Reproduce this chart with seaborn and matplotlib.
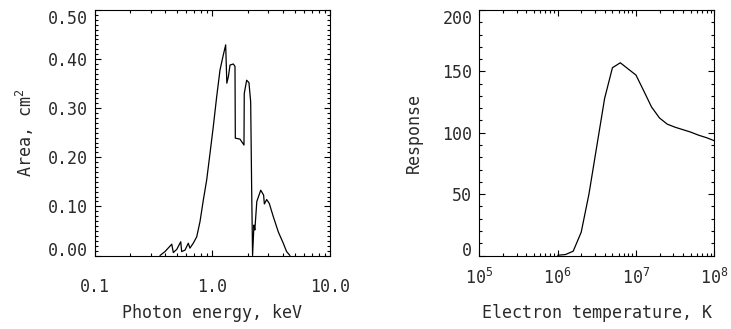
import numpy as np
import pandas as pd
import matplotlib
matplotlib.use('Agg')
import matplotlib.pyplot as plt
import matplotlib.ticker as mticker
import seaborn as sns

# effective area vs photon energy (keV)
energy = [0.36, 0.397, 0.453, 0.467, 0.50, 0.54, 0.55, 0.587, 0.626, 0.646,
          0.69, 0.738, 0.787, 0.84, 0.897, 0.957, 1.02, 1.09, 1.164, 1.24,
          1.30, 1.33, 1.37, 1.416, 1.51, 1.56, 1.57, 1.72, 1.86, 1.87,
          1.96, 2.05, 2.12, 2.16, 2.20, 2.26, 2.30, 2.39, 2.58, 2.73,
          2.77, 2.90, 3.05, 3.30, 3.64, 4.01, 4.28, 4.57]
area = [0.0, 0.008, 0.023, 0.006, 0.0126, 0.028, 0.008, 0.011, 0.025, 0.015,
        0.025, 0.038, 0.069, 0.113, 0.154, 0.208, 0.262, 0.323, 0.378, 0.408,
        0.429, 0.351, 0.364, 0.388, 0.39, 0.385, 0.239, 0.237, 0.225, 0.330,
        0.357, 0.352, 0.313, 0.14, 0.0, 0.062, 0.052, 0.11, 0.133, 0.123,
        0.105, 0.114, 0.106, 0.079, 0.048, 0.025, 0.008, 0.0]

# temperature response
temperature = [1.0e6, 1.26e6, 1.58e6, 2.0e6, 2.51e6, 3.16e6, 3.98e6, 5.01e6,
               6.31e6, 7.94e6, 1.0e7, 1.26e7, 1.58e7, 2.0e7, 2.51e7, 3.16e7,
               3.98e7, 5.01e7, 6.31e7, 7.94e7, 1.0e8]
response = [0.2, 0.8, 3.5, 19, 50, 89, 128, 153,
            157, 152, 147, 134, 121, 112, 107, 104.5,
            102.5, 100.5, 98, 96, 93.5]

df_area = pd.DataFrame({"energy": energy, "area": area})
df_resp = pd.DataFrame({"temperature": temperature, "response": response})

sns.set_theme(style="ticks")
plt.rcParams['font.family'] = ['DejaVu Sans Mono']
plt.rcParams['mathtext.fontset'] = 'custom'
plt.rcParams['mathtext.rm'] = 'DejaVu Sans Mono'
plt.rcParams['mathtext.it'] = 'DejaVu Sans Mono'
plt.rcParams['font.size'] = 12
plt.rcParams['axes.linewidth'] = 0.8
plt.rcParams['text.color'] = '#2a2a2a'
plt.rcParams['axes.labelcolor'] = '#2a2a2a'

fig = plt.figure(figsize=(7.31, 3.29), dpi=100)
ax1 = fig.add_axes([94.5 / 731, 73.5 / 329, 235.5 / 731, 245.5 / 329])
ax2 = fig.add_axes([479.3 / 731, 73.5 / 329, 235 / 731, 245.5 / 329])

sns.lineplot(data=df_area, x="energy", y="area", ax=ax1, color="black",
             linewidth=0.9, estimator=None, sort=False)
sns.lineplot(data=df_resp, x="temperature", y="response", ax=ax2, color="black",
             linewidth=0.9, estimator=None, sort=False)

for ax in (ax1, ax2):
    ax.set_xscale("log")
    for s in ax.spines.values():
        s.set_color("black")
    ax.tick_params(which="both", direction="in", top=True, right=True,
                   color="black", labelcolor="#2a2a2a", labelsize=12, width=0.8)
    ax.tick_params(which="major", length=4.5)
    ax.tick_params(which="minor", length=2.2)
    ax.tick_params(axis="y", pad=5)
    ax.xaxis.set_minor_locator(mticker.LogLocator(base=10, subs=np.arange(2, 10)))
    ax.xaxis.set_minor_formatter(mticker.NullFormatter())

# left panel
ax1.set_xlim(0.1, 10)
ax1.set_ylim(0, 0.5)
ax1.set_xticks([0.1, 1, 10])
ax1.set_xticklabels(["0.1", "1.0", "10.0"])
ax1.set_yticks([0, 0.1, 0.2, 0.3, 0.4, 0.5])
ax1.set_yticklabels(["0.00", "0.10", "0.20", "0.30", "0.40", "0.50"])
ax1.yaxis.set_minor_locator(mticker.MultipleLocator(0.01))
ax1.tick_params(axis="x", pad=16.5)
ax1.set_xlabel("Photon energy, keV", fontsize=12, va="baseline")
ax1.set_ylabel("Area, cm$^2$", fontsize=12, va="center")
ax1.xaxis.set_label_coords(0.5, -0.255)
ax1.yaxis.set_label_coords(-0.295, 0.5)

# right panel
ax2.set_xlim(1e5, 1e8)
ax2.set_ylim(0, 200)
ax2.set_xticks([1e5, 1e6, 1e7, 1e8])
ax2.set_yticks([0, 50, 100, 150, 200])
ax2.set_yticklabels(["0", "50", "100", "150", "200"])
ax2.yaxis.set_minor_locator(mticker.MultipleLocator(10))
ax2.tick_params(axis="x", pad=9)
ax2.set_xlabel("Electron temperature, K", fontsize=12, va="baseline")
ax2.set_ylabel("Response", fontsize=12, va="center")
ax2.xaxis.set_label_coords(0.5, -0.255)
ax2.yaxis.set_label_coords(-0.278, 0.5)

# end labels pushed inside the axis range
for ax in (ax1, ax2):
    labels = ax.get_yticklabels()
    labels[0].set_va("baseline")
    labels[-1].set_va("top")

fig.savefig("out.png", dpi=100, facecolor="white")
